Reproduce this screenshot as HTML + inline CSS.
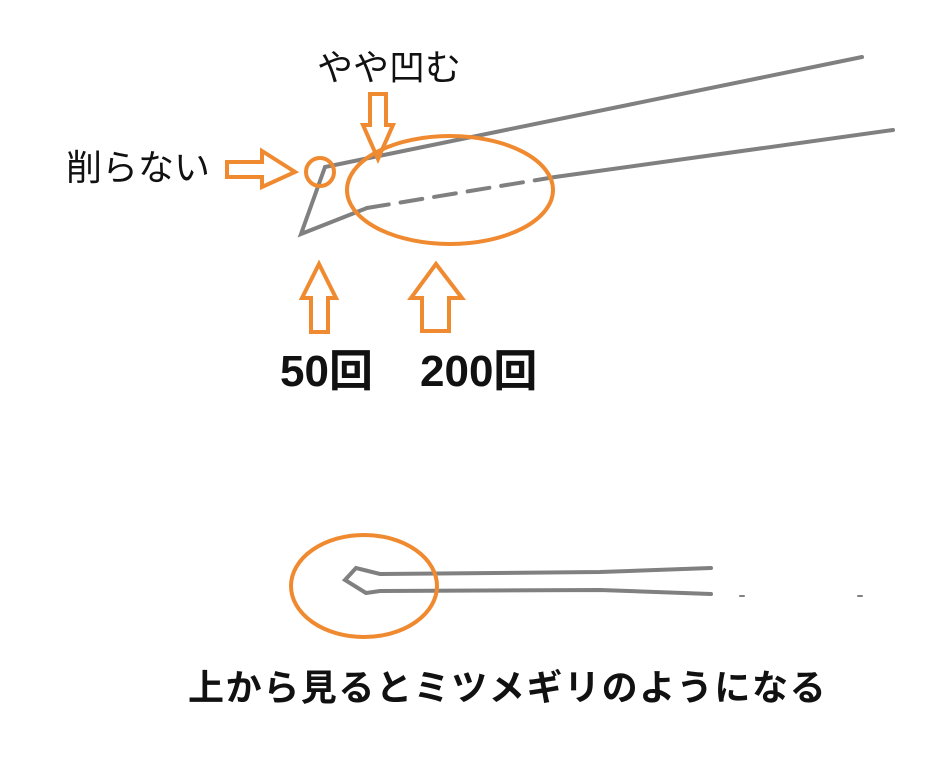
<!DOCTYPE html>
<html><head><meta charset="utf-8"><style>
html,body{margin:0;padding:0;background:#fff;width:934px;height:763px;overflow:hidden}
svg{position:absolute;left:0;top:0}
.t{position:absolute;font-family:"Liberation Sans","Noto Sans CJK JP",sans-serif;color:#111;white-space:nowrap;line-height:1}
</style></head><body>
<svg width="934" height="763" viewBox="0 0 934 763">
<g stroke="#808080" stroke-width="4" fill="none" stroke-linecap="round">
<polyline points="862,57 325,167 301,234 367,208"/>
<line x1="367" y1="208" x2="555" y2="177" stroke-dasharray="22,12"/>
<line x1="555" y1="177" x2="893" y2="130"/>
<polyline points="711,568 600,572 380,574 356,568 345,580 366,593 380,591 600,590 711,594"/>
<line x1="740" y1="596" x2="744" y2="596" stroke-width="2"/>
<line x1="858" y1="596" x2="862" y2="596" stroke-width="2"/>
</g>
<g stroke="#f08a30" stroke-width="4" fill="none" stroke-linejoin="miter">
<ellipse cx="450" cy="190" rx="103" ry="54"/>
<circle cx="320" cy="172" r="14"/>
<ellipse cx="364" cy="586" rx="73" ry="51"/>
<polygon points="370,94 386,94 386,125 393,125 378,159 363,125 370,125"/>
<polygon points="227,162 262,162 262,151 295,172 262,187 262,177 227,177"/>
<polygon points="311,332 328,332 328,298 336,298 319,264 302,298 311,298"/>
<polygon points="422,331 449,331 449,298 462,298 436,264 411,298 422,298"/>
</g>
</svg>
<div class="t" style="left:317px;top:50px;font-size:36px">やや凹む</div>
<div class="t" style="left:66px;top:150px;font-size:36px">削らない</div>
<div class="t" style="left:280px;top:350px;font-size:44px;font-weight:bold">50回</div>
<div class="t" style="left:420px;top:350px;font-size:44px;font-weight:bold">200回</div>
<div class="t" style="left:188px;top:670px;font-size:36px;letter-spacing:1.6px;font-weight:bold">上から見るとミツメギリのようになる</div>
</body></html>
